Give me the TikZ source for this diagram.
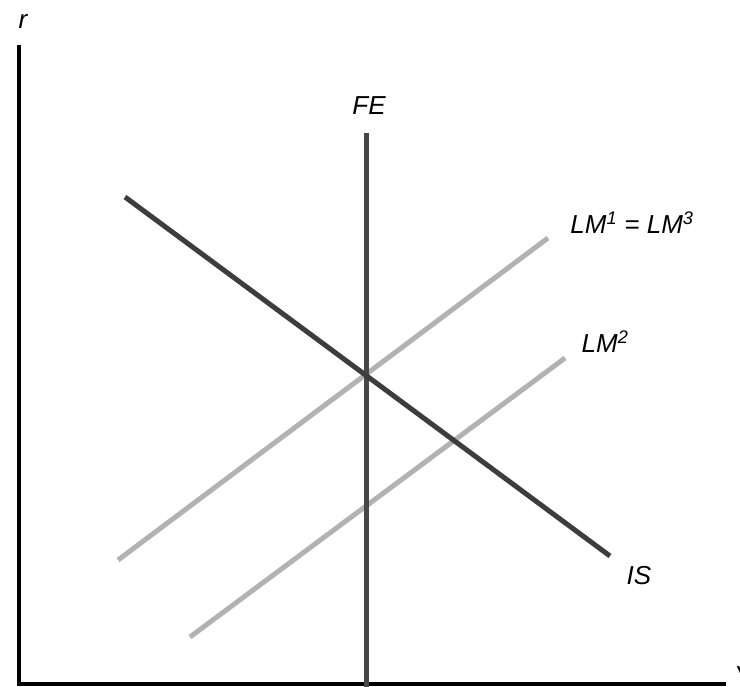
\documentclass[tikz,border=0pt]{standalone}
\usepackage{fontspec}
\setmainfont{Liberation Sans}
\usetikzlibrary{positioning,calc}

\begin{document}
\begin{tikzpicture}[
        x=1pt, y=-1pt,
        axis/.style={draw, black, line width=4pt},
        curve/.style={draw, line width=5pt},
        fecurve/.style={curve, black!72},
        iscurve/.style={curve, black!76},
        lmcurve/.style={curve, black!30},
        lbl/.style={font=\fontsize{26}{30}\selectfont\itshape, inner sep=1pt}
    ]
        \useasboundingbox (0,0) rectangle (740,687);

        % Axes
        \coordinate (origin) at (19,684);
        \coordinate (rtop) at (19,45);
        \coordinate (yend) at (726,684);
        \draw [axis] (rtop) -- (origin) -- (yend);
        \node (rlbl) [lbl] at (23,22) {r};
        \node (ylbl) [lbl, anchor=west] at (733,676) {Y};

        % Curves
        \coordinate (fetop) at (366,133);
        \coordinate (febot) at (366,687);
        \coordinate (ismin) at (125,197);
        \coordinate (ismax) at (610,556);
        \coordinate (lma) at (118,560);
        \coordinate (lmb) at (548,238);
        \coordinate (lmc) at (190,637);
        \coordinate (lmd) at (565,358);

        \draw [lmcurve] (lma) -- (lmb);
        \draw [lmcurve] (lmc) -- (lmd);
        \draw [fecurve] (fetop) -- (febot);
        \draw [iscurve] (ismin) -- (ismax);

        % Labels
        \node (felbl) [lbl] at (369,106) {FE};
        \node (lm13lbl) [lbl] at (632,223) {LM\textsuperscript{1} = LM\textsuperscript{3}};
        \node (lm2lbl) [lbl] at (605,342) {LM\textsuperscript{2}};
        \node (islbl) [lbl] at (639,576) {IS};

    \end{tikzpicture}
\end{document}
